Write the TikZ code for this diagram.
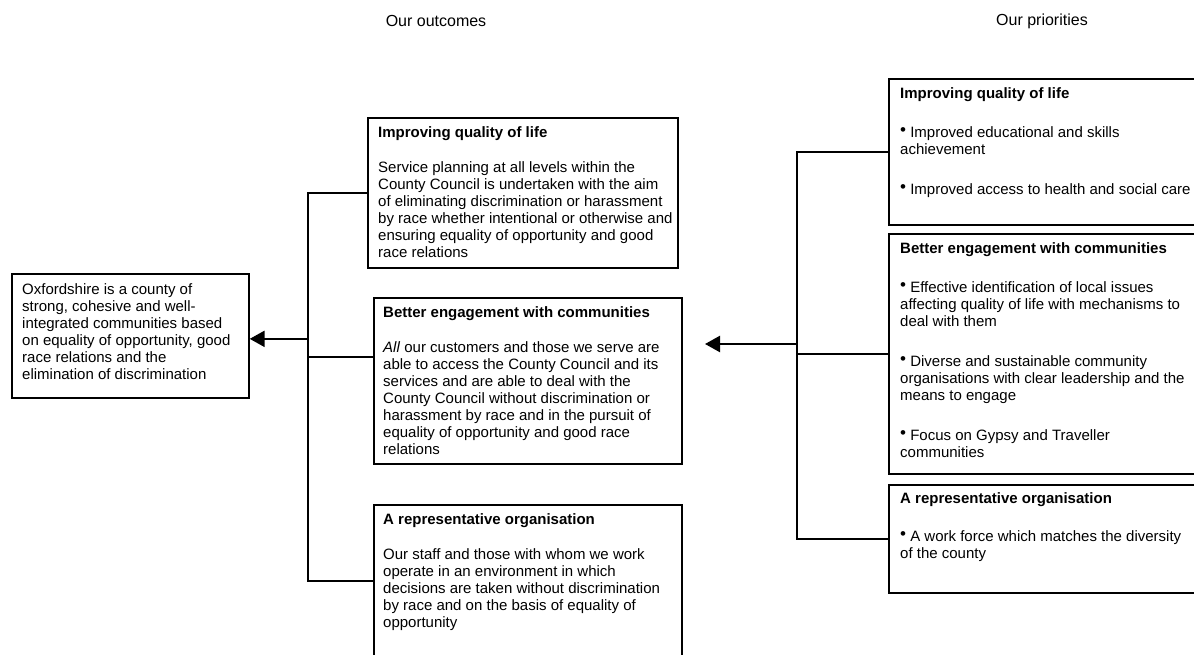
\documentclass[tikz,border=0pt]{standalone}
\usepackage{fontspec}
\setmainfont{Liberation Sans}
\usetikzlibrary{arrows.meta,positioning}

\newcommand{\bodyfont}{\fontsize{15}{17}\selectfont}
\newcommand{\bul}{\raisebox{2pt}{\fontsize{17}{17}\selectfont\textbullet}}

\begin{document}
\begin{tikzpicture}[x=1pt,y=-1pt,
  every node/.style={font=\bodyfont},
  box/.style={draw, line width=1.7pt, inner sep=0pt, anchor=north west},
  txt/.style={inner sep=0pt, anchor=north west, align=left},
  link/.style={line width=1.4pt},
  arrowline/.style={line width=2.4pt, -{Triangle[length=15pt,width=16pt]}}]

\useasboundingbox (0,0) rectangle (1194,655);
\clip (0,0) rectangle (1194,655);

% Column headings
\node (outhead) at (436,21) {\fontsize{16}{19}\selectfont Our outcomes};
\node (prihead) at (1042,21) {\fontsize{16}{19}\selectfont Our priorities};

% Vision box
\node[box, minimum width=237pt, minimum height=124pt] (vision) at (11,273) {};
\node[txt] (visiontxt) at ([shift={(11,10)}]vision.north west) {Oxfordshire is a county of\\
  strong, cohesive and well-\\
  integrated communities based\\
  on equality of opportunity, good\\
  race relations and the\\
  elimination of discrimination};

% Outcome boxes
\node[box, minimum width=310pt, minimum height=150pt] (oq) at (367,117) {};
\node[txt] (oqtxt) at ([shift={(11,9)}]oq.north west) {\textbf{Improving quality of life}\\[18pt]
  Service planning at all levels within the\\
  County Council is undertaken with the aim\\
  of eliminating discrimination or harassment\\
  by race whether intentional or otherwise and\\
  ensuring equality of opportunity and good\\
  race relations};

\node[box, minimum width=308pt, minimum height=166pt] (oc) at (373,297) {};
\node[txt] (octxt) at ([shift={(10,9)}]oc.north west) {\textbf{Better engagement with communities}\\[18pt]
  \textit{All} our customers and those we serve are\\
  able to access the County Council and its\\
  services and are able to deal with the\\
  County Council without discrimination or\\
  harassment by race and in the pursuit of\\
  equality of opportunity and good race\\
  relations};

\node[box, minimum width=308pt, minimum height=152pt] (or) at (373,504) {};
\node[txt] (ortxt) at ([shift={(10,9)}]or.north west) {\textbf{A representative organisation}\\[18pt]
  Our staff and those with whom we work\\
  operate in an environment in which\\
  decisions are taken without discrimination\\
  by race and on the basis of equality of\\
  opportunity};

% Priority boxes (run off the right edge)
\node[box, minimum width=330pt, minimum height=146pt] (pq) at (888,78) {};
\node[txt] (pqtxt) at ([shift={(12,9)}]pq.north west) {\textbf{Improving quality of life}\\[22pt]
  \bul{} Improved educational and skills\\
  achievement\\[23pt]
  \bul{} Improved access to health and social care};

\node[box, minimum width=330pt, minimum height=240pt] (pc) at (888,233) {};
\node[txt] (pctxt) at ([shift={(12,9)}]pc.north west) {\textbf{Better engagement with communities}\\[22pt]
  \bul{} Effective identification of local issues\\
  affecting quality of life with mechanisms to\\
  deal with them\\[23pt]
  \bul{} Diverse and sustainable community\\
  organisations with clear leadership and the\\
  means to engage\\[23pt]
  \bul{} Focus on Gypsy and Traveller\\
  communities};

\node[box, minimum width=330pt, minimum height=108pt] (pr) at (888,484) {};
\node[txt] (prtxt) at ([shift={(12,8)}]pr.north west) {\textbf{A representative organisation}\\[21pt]
  \bul{} A work force which matches the diversity\\
  of the county};

% Left tree
\coordinate (ltop) at ([xshift=-59pt]oq.west);
\coordinate (ocin) at (373,357);
\draw[link] (oq.west) -- (ltop) -- (ltop |- or.west) -- (or.west);
\draw[link] (ocin -| ltop) -- (ocin);
\draw[arrowline] ([yshift=-3pt]vision.east -| ltop) -- ([yshift=-3pt]vision.east);

% Right tree
\coordinate (rtop) at ([xshift=-91pt]pq.west);
\coordinate (rtip) at (705,344);
\draw[link] (pq.west) -- (rtop) -- (rtop |- pr.west) -- (pr.west);
\draw[link] (rtop |- pc.west) -- (pc.west);
\draw[arrowline] (rtip -| rtop) -- (rtip);

\end{tikzpicture}
\end{document}
